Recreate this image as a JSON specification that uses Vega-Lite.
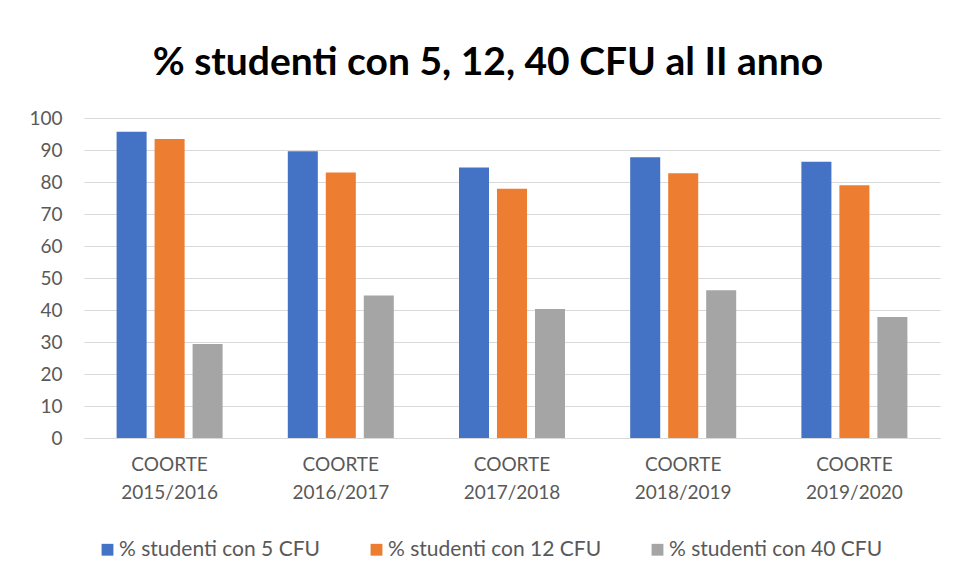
{
  "$schema": "https://vega.github.io/schema/vega-lite/v6.json",
  "width": 856,
  "height": 320,
  "autosize": "none",
  "padding": {"left": 84, "top": 118, "right": 14, "bottom": 144},
  "background": "white",
  "title": {
    "text": "% studenti con 5, 12, 40 CFU al II anno",
    "font": "Lato",
    "fontSize": 39,
    "fontWeight": "bold",
    "color": "#000000",
    "anchor": "middle",
    "dx": -24,
    "offset": 26
  },
  "data": {
    "values": [
      {"coorte": "COORTE 2015/2016", "serie": "% studenti con 5 CFU", "valore": 95.7},
      {"coorte": "COORTE 2015/2016", "serie": "% studenti con 12 CFU", "valore": 93.4},
      {"coorte": "COORTE 2015/2016", "serie": "% studenti con 40 CFU", "valore": 29.4},
      {"coorte": "COORTE 2016/2017", "serie": "% studenti con 5 CFU", "valore": 89.6},
      {"coorte": "COORTE 2016/2017", "serie": "% studenti con 12 CFU", "valore": 83.0},
      {"coorte": "COORTE 2016/2017", "serie": "% studenti con 40 CFU", "valore": 44.5},
      {"coorte": "COORTE 2017/2018", "serie": "% studenti con 5 CFU", "valore": 84.5},
      {"coorte": "COORTE 2017/2018", "serie": "% studenti con 12 CFU", "valore": 77.9},
      {"coorte": "COORTE 2017/2018", "serie": "% studenti con 40 CFU", "valore": 40.3},
      {"coorte": "COORTE 2018/2019", "serie": "% studenti con 5 CFU", "valore": 87.7},
      {"coorte": "COORTE 2018/2019", "serie": "% studenti con 12 CFU", "valore": 82.7},
      {"coorte": "COORTE 2018/2019", "serie": "% studenti con 40 CFU", "valore": 46.2},
      {"coorte": "COORTE 2019/2020", "serie": "% studenti con 5 CFU", "valore": 86.3},
      {"coorte": "COORTE 2019/2020", "serie": "% studenti con 12 CFU", "valore": 79.0},
      {"coorte": "COORTE 2019/2020", "serie": "% studenti con 40 CFU", "valore": 37.8}
    ]
  },
  "mark": {"type": "bar"},
  "encoding": {
    "x": {
      "field": "coorte",
      "type": "nominal",
      "sort": null,
      "title": null,
      "scale": {"paddingInner": 0, "paddingOuter": 0},
      "axis": {
        "labelExpr": "split(datum.label, ' ')",
        "labelAngle": 0,
        "labelFont": "Lato",
        "labelFontSize": 19,
        "labelColor": "#595959",
        "labelLineHeight": 28,
        "labelPadding": 17,
        "ticks": false,
        "domain": true,
        "domainColor": "#d9d9d9",
        "grid": false
      }
    },
    "xOffset": {
      "field": "serie",
      "type": "nominal",
      "sort": ["% studenti con 5 CFU", "% studenti con 12 CFU", "% studenti con 40 CFU"],
      "scale": {"paddingInner": 0.21, "paddingOuter": 0.858}
    },
    "y": {
      "field": "valore",
      "type": "quantitative",
      "title": null,
      "scale": {"domain": [0, 100], "nice": false},
      "axis": {
        "values": [0, 10, 20, 30, 40, 50, 60, 70, 80, 90, 100],
        "labelFont": "Lato",
        "labelFontSize": 19,
        "labelColor": "#595959",
        "labelPadding": 22,
        "ticks": false,
        "domain": false,
        "gridColor": "#d9d9d9",
        "gridWidth": 1
      }
    },
    "color": {
      "field": "serie",
      "type": "nominal",
      "sort": ["% studenti con 5 CFU", "% studenti con 12 CFU", "% studenti con 40 CFU"],
      "scale": {
        "domain": ["% studenti con 5 CFU", "% studenti con 12 CFU", "% studenti con 40 CFU"],
        "range": ["#4472C4", "#ED7D31", "#A5A5A5"]
      },
      "legend": {
        "title": null,
        "orient": "none",
        "direction": "horizontal",
        "legendX": 13,
        "legendY": 421,
        "symbolType": "square",
        "symbolSize": 140,
        "symbolStrokeWidth": 0,
        "labelFont": "Lato",
        "labelFontSize": 21,
        "labelColor": "#595959",
        "labelLimit": 0,
        "columnPadding": 45,
        "labelOffset": 1
      }
    }
  },
  "config": {
    "view": {"stroke": null}
  }
}
